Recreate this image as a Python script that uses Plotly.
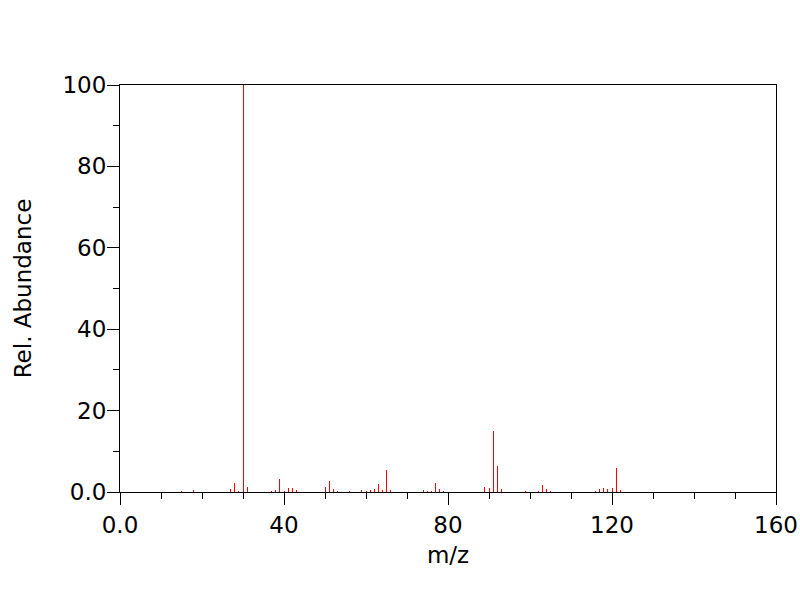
import plotly.graph_objects as go

mz = [15, 18, 26, 27, 28, 29, 30, 31, 32, 37, 38, 39, 40, 41, 42, 43, 44,
      49, 50, 51, 52, 53, 54, 56, 59, 60, 61, 62, 63, 64, 65, 66,
      74, 75, 76, 77, 78, 79, 86, 87, 89, 90, 91, 92, 93, 99,
      102, 103, 104, 105, 106, 107, 116, 117, 118, 119, 120, 121, 122]
abundance = [0.3, 0.6, 0.1, 0.75, 2.3, 0.3, 100, 1.2, 0.1, 0.3, 0.6, 3.2, 0.3, 1.1, 1.1, 0.6, 0.1,
             0.1, 1.3, 2.8, 0.8, 0.3, 0.1, 0.3, 0.6, 0.3, 0.4, 0.8, 2.0, 0.6, 5.5, 0.6,
             0.6, 0.3, 0.3, 2.3, 0.8, 0.3, 0.1, 0.1, 1.3, 1.1, 15.0, 6.5, 0.75, 0.3,
             0.3, 1.6, 0.75, 0.3, 0.1, 0.1, 0.3, 0.8, 1.1, 0.8, 1.1, 6.0, 0.6]

x_ticks = [0, 40, 80, 120, 160]
x_tick_labels = ["0.0", "40", "80", "120", "160"]
y_ticks = [0, 20, 40, 60, 80, 100]
y_tick_labels = ["0.0", "20", "40", "60", "80", "100"]

xs, ys = [], []
for m, a in zip(mz, abundance):
    xs += [m, m, None]
    ys += [0, a, None]

fig = go.Figure()
fig.add_trace(go.Scatter(x=xs, y=ys, mode="lines",
                         line=dict(color="#ff0000", width=1),
                         hoverinfo="skip", showlegend=False))

font = "DejaVu Sans"
fig.update_layout(
    width=800, height=600, autosize=False,
    margin=dict(l=120, r=24, t=85, b=108),
    paper_bgcolor="white", plot_bgcolor="white",
    font=dict(family=font, color="black", size=23),
    xaxis=dict(range=[0, 160], tickvals=x_ticks, ticktext=x_tick_labels,
               automargin=False,
               ticks="outside", ticklen=12, tickwidth=1, tickcolor="black",
               minor=dict(dtick=10, tick0=0, ticks="outside", ticklen=6,
                          tickcolor="black", tickwidth=1, showgrid=False),
               showline=True, linecolor="black", linewidth=1, mirror=True,
               showgrid=False, zeroline=False,
               title=dict(text="m/z", font=dict(size=23), standoff=10),
               tickfont=dict(size=23)),
    yaxis=dict(range=[0, 100], tickvals=y_ticks, ticktext=y_tick_labels,
               automargin=True, ticklabelstandoff=-4,
               ticks="outside", ticklen=12, tickwidth=1, tickcolor="black",
               minor=dict(dtick=10, tick0=0, ticks="outside", ticklen=6,
                          tickcolor="black", tickwidth=1, showgrid=False),
               showline=True, linecolor="black", linewidth=1, mirror=True,
               showgrid=False, zeroline=False,
               title=dict(text="Rel. Abundance", font=dict(size=23), standoff=24),
               tickfont=dict(size=23)),
)

post = ("document.body.style.margin='0';"
        "document.body.style.overflow='hidden';"
        "document.querySelectorAll('.scatterlayer path').forEach("
        "function(p){p.style.shapeRendering='crispEdges';});")
fig.write_html("out.html", post_script=post,
               config={"responsive": False, "displayModeBar": False,
                       "staticPlot": True})
